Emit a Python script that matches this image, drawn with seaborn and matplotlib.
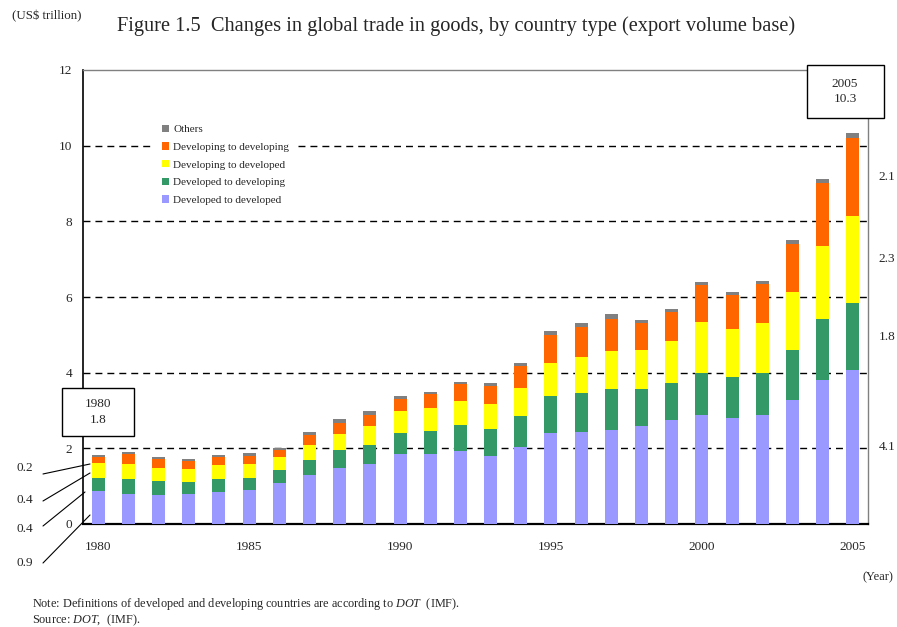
import numpy as np
import pandas as pd
import matplotlib
matplotlib.use("Agg")
import matplotlib.pyplot as plt
from matplotlib.patches import Patch, Rectangle
import seaborn as sns

# ---------------- data ----------------
years = list(range(1980, 2006))
developed_to_developed = [0.86, 0.79, 0.77, 0.79, 0.85, 0.90, 1.08, 1.30, 1.48, 1.59,
                          1.85, 1.85, 1.93, 1.80, 2.04, 2.41, 2.43, 2.49, 2.59, 2.75,
                          2.88, 2.80, 2.88, 3.28, 3.81, 4.06]
developed_to_developing = [0.36, 0.40, 0.37, 0.32, 0.34, 0.32, 0.34, 0.40, 0.48, 0.50,
                           0.56, 0.61, 0.69, 0.71, 0.82, 0.98, 1.03, 1.08, 0.98, 0.98,
                           1.11, 1.08, 1.11, 1.32, 1.61, 1.78]
developing_to_developed = [0.38, 0.40, 0.34, 0.34, 0.37, 0.37, 0.34, 0.40, 0.42, 0.50,
                           0.58, 0.61, 0.63, 0.66, 0.74, 0.87, 0.95, 1.01, 1.03, 1.11,
                           1.35, 1.27, 1.32, 1.53, 1.93, 2.31]
developing_to_developing = [0.18, 0.27, 0.24, 0.21, 0.21, 0.22, 0.19, 0.25, 0.29, 0.29,
                            0.32, 0.37, 0.45, 0.48, 0.58, 0.74, 0.79, 0.85, 0.71, 0.77,
                            0.98, 0.90, 1.03, 1.27, 1.67, 2.06]
others = [0.05, 0.05, 0.05, 0.05, 0.05, 0.07, 0.07, 0.08, 0.11, 0.11,
          0.08, 0.05, 0.05, 0.08, 0.08, 0.11, 0.11, 0.11, 0.08, 0.08,
          0.08, 0.08, 0.08, 0.11, 0.11, 0.12]

series_names = ["Developed to developed", "Developed to developing",
                "Developing to developed", "Developing to developing", "Others"]
series_values = [developed_to_developed, developed_to_developing,
                 developing_to_developed, developing_to_developing, others]
series_colors = ["#9999FF", "#339966", "#FFFF00", "#FF6600", "#808080"]

y_ticks = [0, 2, 4, 6, 8, 10, 12]
grid_levels = [2, 4, 6, 8, 10]

# ---------------- style ----------------
sns.set_style("white")
serif = ["Liberation Serif", "DejaVu Serif"]
plt.rcParams["font.family"] = serif
plt.rcParams["mathtext.fontset"] = "custom"
plt.rcParams["mathtext.rm"] = "Liberation Serif"
plt.rcParams["mathtext.it"] = "Liberation Serif:italic"

W, H = 897, 627
fig = plt.figure(figsize=(W / 100, H / 100), dpi=100)
ax = fig.add_axes([83 / W, 103 / H, 785 / W, 454 / H])

df = pd.DataFrame({"year": [str(y) for y in years]})
bottom = np.zeros(len(years))
for name, vals, col in zip(series_names, series_values, series_colors):
    vals = np.asarray(vals)
    sns.barplot(x=df["year"], y=vals, bottom=bottom, color=col, saturation=1,
                width=0.43, errorbar=None, ax=ax, zorder=3, linewidth=0)
    bottom = bottom + vals

ax.set_xlim(-0.5, len(years) - 0.5)
ax.set_ylim(0, 12)
ax.set_xlabel("")
ax.set_ylabel("")

# gridlines
for g in grid_levels:
    ax.axhline(g, color="black", lw=1, linestyle=(0, (5, 3.6)), zorder=1)

# y axis
ax.set_yticks(y_ticks)
ax.set_yticklabels([str(t) for t in y_ticks])
ax.tick_params(axis="y", length=0, pad=8, labelsize=9.5)

# x axis
ax.set_xticks(range(len(years)))
ax.set_xticklabels([str(y) if y % 5 == 0 else "" for y in years])
ax.tick_params(axis="x", which="major", length=0, pad=12, labelsize=9.5)
ax.set_xticks(np.arange(0.5, len(years) - 1, 1.0), minor=True)
ax.tick_params(axis="x", which="minor", direction="in", length=4, width=1, color="black")

for s in ["left", "bottom"]:
    ax.spines[s].set_color("black")
ax.spines["left"].set_linewidth(1.2)
ax.spines["bottom"].set_linewidth(1.6)
for s in ["top", "right"]:
    ax.spines[s].set_color("#808080")
    ax.spines[s].set_linewidth(1)

# legend
handles = [Patch(facecolor=c, edgecolor="none", label=n)
           for n, c in zip(series_names[::-1], series_colors[::-1])]
leg = ax.legend(handles=handles, loc="upper left", bbox_to_anchor=(0.0895, 0.899),
                frameon=True, fancybox=False, framealpha=1, edgecolor="white",
                fontsize=8, handlelength=0.65, handleheight=0.65,
                handletextpad=0.35, labelspacing=0.72, borderpad=0.8,
                borderaxespad=0)
leg.get_frame().set_linewidth(0)
leg.set_zorder(6)

# 1980 box
first_total = sum(v[0] for v in series_values)
ax.add_patch(Rectangle((-1.196, 2.326), 2.385, 1.269, facecolor="white",
                       edgecolor="black", lw=1, zorder=10, clip_on=False))
ax.text(0, 2.96, f"{years[0]}\n{first_total:.1f}", ha="center", va="center",
        fontsize=9.5, linespacing=1.35, zorder=11, clip_on=False)

# 2005 box
last_total = sum(v[-1] for v in series_values)
ax.add_patch(Rectangle((23.48, 10.73), 2.55, 1.40, facecolor="white",
                       edgecolor="black", lw=1, zorder=10, clip_on=False))
ax.text(24.74, 11.44, f"{years[-1]}\n{last_total:.1f}", ha="center", va="center",
        fontsize=9.5, linespacing=1.35, zorder=11, clip_on=False)

# right side labels for 2005 segments
cum = 0.0
for vals in series_values[:4]:
    v = vals[-1]
    ax.text(26.12, cum + v / 2, f"{v:.1f}", ha="center", va="center",
            fontsize=9.5, clip_on=False)
    cum += v

# left side labels for 1980 segments with leader lines
label_pos_y = [1.488, 0.634, -0.132, -1.031]   # orange, yellow, green, purple
line_start = [(-1.825, 1.322), (-1.825, 0.608), (-1.825, -0.053), (-1.825, -1.031)]
line_end = [(-0.268, 1.586), (-0.268, 1.348), (-0.434, 0.846), (-0.268, 0.238)]
left_vals = [series_values[3][0], series_values[2][0], series_values[1][0], series_values[0][0]]
for ly, (x0, y0), (x1, y1), v in zip(label_pos_y, line_start, line_end, left_vals):
    ax.text(-2.42, ly, f"{v:.1f}", ha="center", va="center", fontsize=9.5, clip_on=False)
    ax.plot([x0, x1], [y0, y1], color="black", lw=0.8, clip_on=False, zorder=4)

# titles and notes
fig.text(456 / W, 1 - 26 / H,
         "Figure 1.5  Changes in global trade in goods, by country type (export volume base)",
         ha="center", va="center", fontsize=14.7)
fig.text(47 / W, 1 - 16 / H, "(US\\$ trillion)", ha="center", va="center", fontsize=9.3)
fig.text(878 / W, 1 - 577 / H, "(Year)", ha="center", va="center", fontsize=9)
fig.text(32 / W, 1 - 604 / H,
         "Note: Definitions of developed and developing countries are according to $\\mathit{DOT}$  (IMF).",
         ha="left", va="center", fontsize=8.85)
fig.text(32 / W, 1 - 620 / H, "Source: $\\mathit{DOT}$,  (IMF).",
         ha="left", va="center", fontsize=8.85)

fig.savefig("out.png", dpi=100)
